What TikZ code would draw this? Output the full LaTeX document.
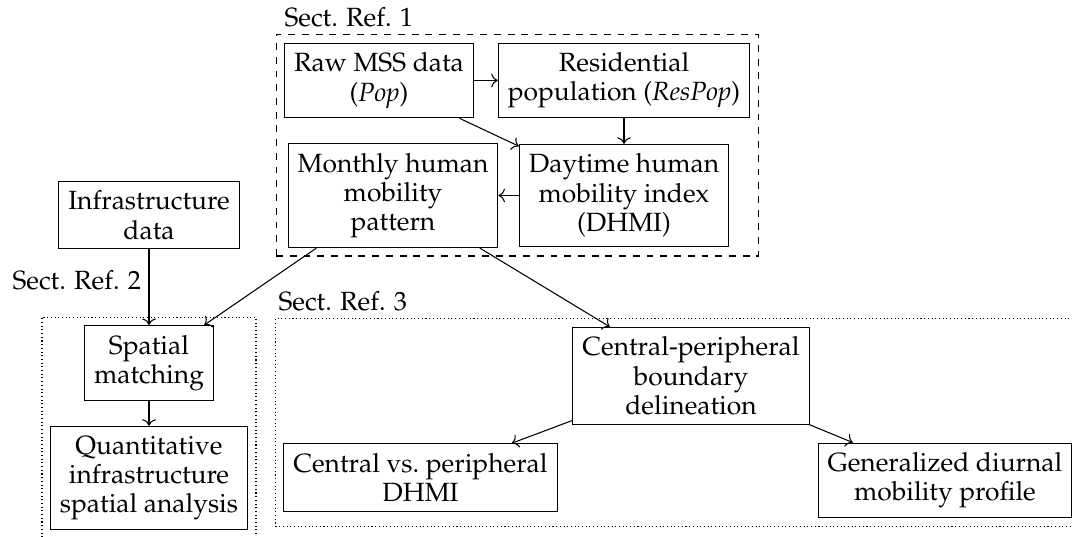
\documentclass[tikz,border=0pt]{standalone}
\usepackage[T1]{fontenc}
\usepackage{mathpazo}
\usetikzlibrary{arrows.meta, positioning, fit, backgrounds}

\begin{document}
\begin{tikzpicture}[
  x=0.379pt, y=-0.379pt,
  every node/.style={font=\fontsize{10}{11.1}\selectfont},
  block/.style={draw, rectangle, align=center, inner sep=3.6pt},
  arrow/.style={->},
  frame/.style={draw, rectangle, inner sep=3pt},
  sectlabel/.style={anchor=base west, inner sep=0pt}
]
\useasboundingbox (0,0) rectangle (1072,537);
\clip (0,0) rectangle (1072,537);

% section 1
\node[block] (raw)   at (379,80.5)  {Raw MSS data\\(\textit{Pop})};
\node[block] (res)   at (624,80.5)  {Residential\\population (\textit{ResPop})};
\node[block] (month) at (393,195.5) {Monthly human\\mobility\\pattern};
\node[block] (day)   at (624,195.5) {Daytime human\\mobility index\\(DHMI)};

% section 2
\node[block] (infra)   at (149,215) {Infrastructure\\data};
\node[block] (spatial) at (149,363) {Spatial\\matching};
\node[block] (quant)   at (149,478) {Quantitative\\infrastructure\\spatial analysis};

% section 3
\node[block] (central) at (691,376)   {Central-peripheral\\boundary\\delineation};
\node[block] (cvp)     at (420.5,477.5) {Central vs.\ peripheral\\DHMI};
\node[block] (gen)     at (945,480.5) {Generalized diurnal\\mobility profile};

\begin{scope}[on background layer]
\node[frame, dash pattern=on 2.6pt off 2.6pt, fit=(raw)(res)(month)(day)] (sect1) {};
\node[frame, densely dotted, fit=(spatial)(quant)] (sect2) {};
\node[frame, densely dotted, fit=(central)(cvp)(gen)] (sect3) {};
\end{scope}

\node[sectlabel] (lab1) at (284,27)  {Sect. Ref. 1};
\node[sectlabel] (lab2) at (12,289)  {Sect. Ref. 2};
\node[sectlabel] (lab3) at (278,311) {Sect. Ref. 3};

\draw[arrow] (raw)     -- (res);
\draw[arrow] (res)     -- (day);
\draw[arrow] (raw)     -- (day);
\draw[arrow] (day)     -- (month);
\draw[arrow] (infra)   -- (spatial);
\draw[arrow] (month)   -- (spatial);
\draw[arrow] (spatial) -- (quant);
\draw[arrow] (month)   -- (central);
\draw[arrow] (central) -- (cvp);
\draw[arrow] (central) -- (gen);
\end{tikzpicture}
\end{document}
